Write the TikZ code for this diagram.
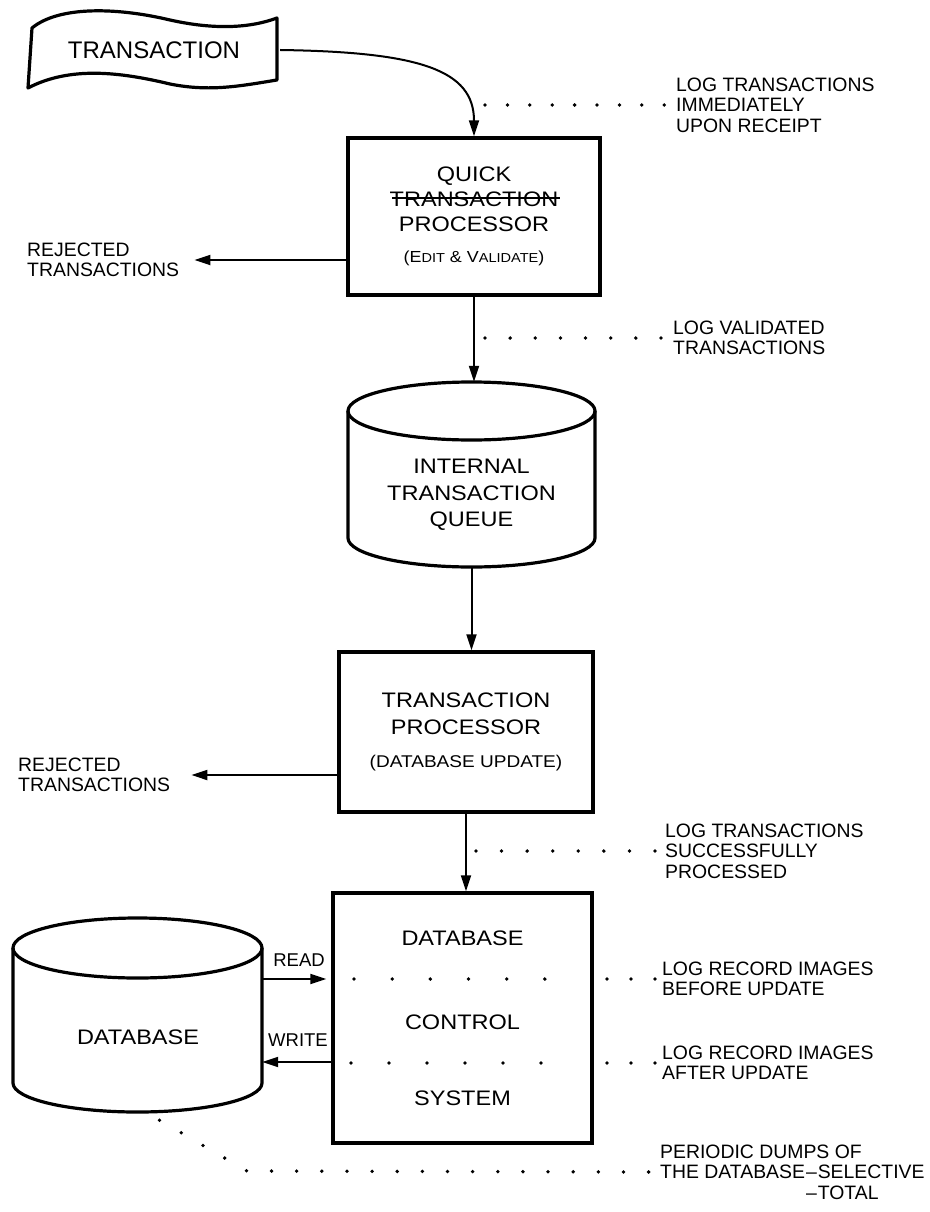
\documentclass[tikz,border=0pt]{standalone}
\usepackage{fontspec}
\setmainfont{Liberation Sans}
\newfontfamily\widefont[FakeStretch=1.12]{Liberation Sans}
\newcommand\bxfont{\widefont\fontsize{21}{25}\selectfont}
\newcommand\ntfont{\fontsize{19.4}{20.5}\selectfont}
\usetikzlibrary{arrows.meta}
\begin{document}
\begin{tikzpicture}[x=1pt,y=-1pt,
  box/.style={draw, line width=3.4pt, inner sep=0pt, align=center, font=\bxfont},
  ghost/.style={inner sep=0pt, align=center},
  arr/.style={line width=2pt, -{Triangle[length=16pt,width=10pt]}},
  note/.style={anchor=west, inner sep=0pt, align=left, font=\ntfont},
  dotrow/.style={line width=3.8pt, line cap=round, dash pattern=on 0pt off #1},
  outline/.style={line width=3.2pt, line join=round}]
\useasboundingbox (0,0) rectangle (929,1212);

% transaction (wavy document)
\draw[outline] (28,88) -- (32,28) .. controls (60,5) and (120,8) .. (170,20)
  .. controls (215,30) and (250,28) .. (277,18) -- (277,80)
  .. controls (240,86) and (210,92) .. (170,84)
  .. controls (120,72) and (70,66) .. (28,88) -- cycle;
\node[ghost, minimum width=252pt, minimum height=60pt, font=\fontsize{24}{28}\selectfont] (trans) at (154,50) {TRANSACTION};

% quick transaction processor
\node[box, minimum width=252pt, minimum height=157pt] (quick) at (474,216.5)
  {QUICK\\TRANSACTION\\PROCESSOR\\[6pt]{\fontsize{16}{16}\selectfont (E{\fontsize{13}{13}\selectfont DIT} \& V{\fontsize{13}{13}\selectfont ALIDATE})}};
\draw[line width=1.3pt] (392,198) -- (560,198);

% internal queue (cylinder)
\node[ghost, minimum width=247pt, minimum height=185pt] (queue) at (471.5,474.5) {};
\draw[outline] (348,411) -- (348,538) arc[start angle=180, end angle=360, x radius=123.5pt, y radius=29pt] -- (595,411);
\draw[outline] (471.5,411) ellipse [x radius=123.5pt, y radius=29pt];
\node[ghost, font=\widefont\fontsize{21}{26.5}\selectfont] (queuet) at (471.5,495) {INTERNAL\\TRANSACTION\\QUEUE};

% transaction processor
\node[box, minimum width=254pt, minimum height=160pt] (tp) at (466,732)
  {TRANSACTION\\[2pt]PROCESSOR\\[8pt]{\fontsize{17}{17}\selectfont (DATABASE UPDATE)}};

% database control system
\node[box, minimum width=259pt, minimum height=250pt] (dbcs) at (462.5,1018)
  {DATABASE\\[59pt]CONTROL\\[51pt]SYSTEM};

% database (cylinder)
\node[ghost, minimum width=249pt, minimum height=194pt] (db) at (137.5,1015) {};
\draw[outline] (13,948) -- (13,1083) arc[start angle=180, end angle=360, x radius=124.5pt, y radius=29pt] -- (262,948);
\draw[outline] (137.5,948) ellipse [x radius=124.5pt, y radius=30pt];
\node[ghost, font=\bxfont] (dbt) at (138,1037) {DATABASE};

% notes
\node[note] (L1) at (676,105) {LOG TRANSACTIONS\\IMMEDIATELY\\UPON RECEIPT};
\node[note] (L2) at (673,338) {LOG VALIDATED\\TRANSACTIONS};
\node[note] (L3) at (665,851) {LOG TRANSACTIONS\\SUCCESSFULLY\\PROCESSED};
\node[note] (L4) at (662,979) {LOG RECORD IMAGES\\BEFORE UPDATE};
\node[note] (L5) at (662,1063) {LOG RECORD IMAGES\\AFTER UPDATE};
\node[note] (L6) at (660,1172) {PERIODIC DUMPS OF\\THE DATABASE\kern1pt--\kern1pt SELECTIVE\\\phantom{THE DATABASE\kern1pt}--\kern1pt TOTAL};
\node[note] (rej1) at (27,260) {REJECTED\\TRANSACTIONS};
\node[note] (rej2) at (18,775) {REJECTED\\TRANSACTIONS};
\node[ghost, font=\fontsize{18.5}{20}\selectfont] (rdl) at (299,960) {READ};
\node[ghost, font=\fontsize{18.5}{20}\selectfont] (wrl) at (298,1040) {WRITE};
\coordinate (rd) at (300,979);
\coordinate (wr) at (300,1062);

% flow arrows
\draw[arr] (trans.east) .. controls (420,52) and (474,70) .. (quick.north);
\draw[arr] (quick.south) -- (quick.south |- queue.north);
\draw[arr] (queue.south) -- (queue.south |- tp.north);
\draw[arr] (tp.south) -- (tp.south |- dbcs.north);
\draw[arr] (quick.west |- rej1.east) -- ([xshift=15pt]rej1.east);
\draw[arr] (tp.west |- rej2.east) -- ([xshift=21pt]rej2.east);
\draw[arr, shorten >=5pt] (db.east |- rd) -- (dbcs.west |- rd);
\draw[arr] (dbcs.west |- wr) -- (db.east |- wr);

% dotted log leaders
\draw[dotrow=22.4pt] ([xshift=-191pt]L1.west) -- ([xshift=-11pt]L1.west);
\draw[dotrow=25.14pt] ([xshift=-188pt]L2.west) -- ([xshift=-12pt]L2.west);
\draw[dotrow=25.57pt] ([xshift=-189pt]L3.west) -- ([xshift=-10pt]L3.west);
\draw[dotrow=38.17pt] ([xshift=-308pt]L4.west) -- ([xshift=-79pt]L4.west);
\draw[dotrow=24pt] ([xshift=-55pt]L4.west) -- ([xshift=-7pt]L4.west);
\draw[dotrow=38pt] ([xshift=-311pt]L5.west) -- ([xshift=-83pt]L5.west);
\draw[dotrow=24pt] ([xshift=-55pt]L5.west) -- ([xshift=-7pt]L5.west);
\draw[dotrow=25.14pt] ([shift={(22pt,-8pt)}]db.south) -- (247,1171) -- ([xshift=-10pt]L6.west);
\end{tikzpicture}
\end{document}
